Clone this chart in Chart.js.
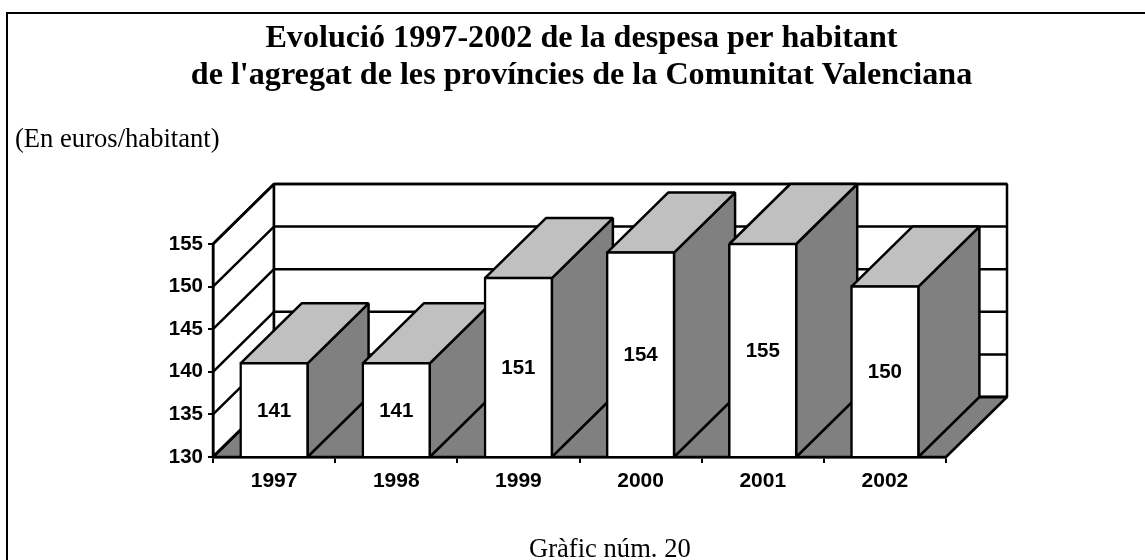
<!DOCTYPE html>
<html>
<head>
<meta charset="utf-8">
<title>Gràfic núm. 20</title>
<script src="https://cdn.jsdelivr.net/npm/chart.js@4"></script>
<style>
  html, body { margin: 0; padding: 0; background: #fff; }
  canvas { display: block; }
</style>
</head>
<body>
<canvas id="chart" width="1145" height="560"></canvas>
<script>
const years = ['1997', '1998', '1999', '2000', '2001', '2002'];
const despesa = [141, 141, 151, 154, 155, 150];
const yTicks = [130, 135, 140, 145, 150, 155];
const titleLines = ['Evolució 1997-2002 de la despesa per habitant', "de l'agregat de les províncies de la Comunitat Valenciana"];
const unitText = '(En euros/habitant)';
const captionText = 'Gràfic núm. 20';

const depthX = 61;
const depthY = 60;
const sans = '"Liberation Sans", Arial, sans-serif';
const serif = '"Liberation Serif", "Times New Roman", serif';

function poly(ctx, pts, fill) {
    ctx.beginPath();
    ctx.moveTo(pts[0][0], pts[0][1]);
    for (let i = 1; i < pts.length; i++) {
        ctx.lineTo(pts[i][0], pts[i][1]);
    }
    ctx.closePath();
    ctx.fillStyle = fill;
    ctx.fill();
    ctx.stroke();
}

// frame and the texts round the chart
const pageText = {
    id: 'pageText',
    beforeDraw(chart) {
        const ctx = chart.ctx;
        ctx.save();
        ctx.strokeStyle = '#000';
        ctx.lineWidth = 2;
        ctx.beginPath();
        ctx.moveTo(7, 560);
        ctx.lineTo(7, 13);
        ctx.lineTo(1145, 13);
        ctx.stroke();
        ctx.fillStyle = '#000';
        ctx.textAlign = 'center';
        ctx.font = 'bold 32.15px ' + serif;
        ctx.fillText(titleLines[0], 581.5, 47);
        ctx.fillText(titleLines[1], 581.5, 84);
        ctx.textAlign = 'left';
        ctx.font = '26.6px ' + serif;
        ctx.fillText(unitText, 15, 147);
        ctx.fillText(captionText, 529, 557);
        ctx.restore();
    },
};

// walls, floor, bar sides and tops, all from the chart's scales
const box3d = {
    id: 'box3d',
    beforeDatasetsDraw(chart) {
        const ctx = chart.ctx;
        const x = chart.scales.x;
        const y = chart.scales.y;
        const l = x.left, r = x.right, b = y.bottom, t = y.top;
        ctx.save();
        ctx.strokeStyle = '#000';
        ctx.lineWidth = 2.5;
        ctx.lineJoin = 'bevel';
        poly(ctx, [[l, b], [l + depthX, b - depthY], [l + depthX, t - depthY], [l, t]], '#fff');
        poly(ctx, [[l + depthX, b - depthY], [r + depthX, b - depthY], [r + depthX, t - depthY], [l + depthX, t - depthY]], '#fff');
        poly(ctx, [[l, b], [r, b], [r + depthX, b - depthY], [l + depthX, b - depthY]], '#808080');
        yTicks.forEach((v) => {
            const py = y.getPixelForValue(v);
            ctx.beginPath();
            ctx.moveTo(l, py);
            ctx.lineTo(l + depthX, py - depthY);
            ctx.lineTo(r + depthX, py - depthY);
            ctx.stroke();
        });
        chart.getDatasetMeta(0).data.forEach((bar) => {
            const x0 = bar.x - bar.width / 2;
            const x1 = bar.x + bar.width / 2;
            poly(ctx, [[x1, bar.y], [x1 + depthX, bar.y - depthY], [x1 + depthX, b - depthY], [x1, b]], '#808080');
            poly(ctx, [[x0, bar.y], [x1, bar.y], [x1 + depthX, bar.y - depthY], [x0 + depthX, bar.y - depthY]], '#c0c0c0');
        });
        ctx.restore();
    },
    afterDatasetsDraw(chart) {
        const ctx = chart.ctx;
        const b = chart.scales.y.bottom;
        ctx.save();
        ctx.fillStyle = '#000';
        ctx.font = 'bold 20.5px ' + sans;
        ctx.textAlign = 'center';
        ctx.textBaseline = 'middle';
        chart.getDatasetMeta(0).data.forEach((bar, i) => {
            ctx.fillText(despesa[i], bar.x, (bar.y + b) / 2 + 1);
        });
        ctx.restore();
    },
};

const chart = new Chart(document.getElementById('chart'), {
    type: 'bar',
    data: {
        labels: years,
        datasets: [{
            data: despesa,
            backgroundColor: '#fff',
            borderColor: '#000',
            borderWidth: 2.5,
            inflateAmount: 1.25,
            borderSkipped: false,
            categoryPercentage: 1,
            barPercentage: 0.548,
        }],
    },
    options: {
        responsive: false,
        animation: false,
        events: [],
        layout: {
            padding: { left: 153, right: 199, top: 244, bottom: 63 },
        },
        plugins: {
            legend: { display: false },
            title: { display: false },
            tooltip: { enabled: false },
        },
        scales: {
            x: {
                afterFit: (s) => { s.height = 40; },
                grid: { drawOnChartArea: false, tickLength: 6, color: '#000', lineWidth: 2, z: 1 },
                border: { color: '#000', width: 2.5, z: 1 },
                ticks: { color: '#000', font: { family: sans, size: 21, weight: 'bold' }, padding: 6, maxRotation: 0 },
            },
            y: {
                min: 130,
                max: 155,
                afterFit: (s) => { s.width = 60; },
                afterBuildTicks: (s) => { s.ticks = yTicks.map((v) => ({ value: v })); },
                grid: { drawOnChartArea: false, tickLength: 5, color: '#000', lineWidth: 2, z: 1 },
                border: { color: '#000', width: 2.5, z: 1 },
                ticks: { color: '#000', font: { family: sans, size: 20.5, weight: 'bold' }, padding: 5 },
            },
        },
    },
    plugins: [pageText, box3d],
});
</script>
</body>
</html>
